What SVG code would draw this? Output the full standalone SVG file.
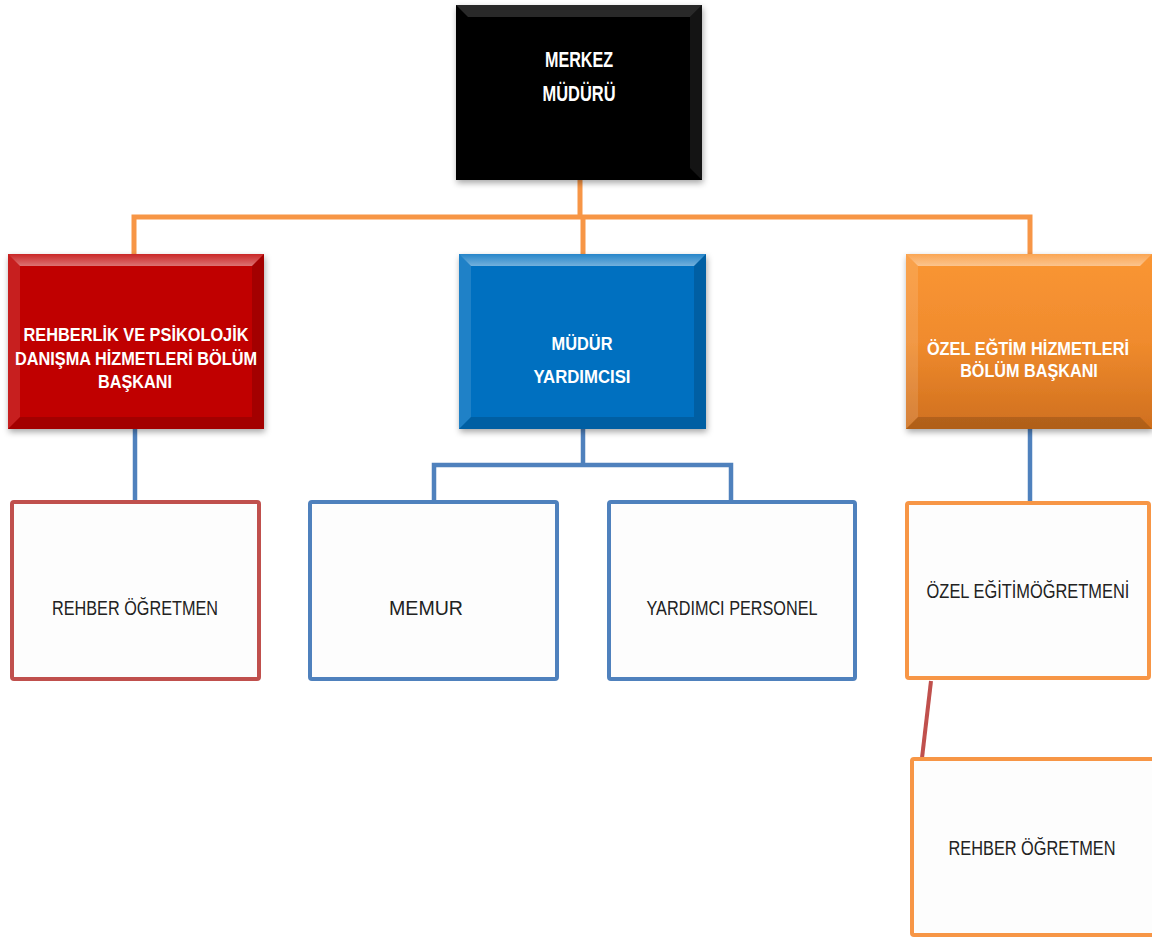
<svg xmlns="http://www.w3.org/2000/svg" width="1152" height="938" viewBox="0 0 1152 938">
<defs>
<filter id="sh" x="-10%" y="-10%" width="120%" height="125%">
<feDropShadow dx="1" dy="3" stdDeviation="3" flood-color="#000" flood-opacity="0.35"/>
</filter>
<linearGradient id="og" x1="0" y1="0" x2="0" y2="1">
<stop offset="0" stop-color="#FA9634"/>
<stop offset="0.5" stop-color="#F08B2D"/>
<stop offset="1" stop-color="#CF6F1E"/>
</linearGradient>
<linearGradient id="hl" x1="0" y1="0" x2="0" y2="1">
<stop offset="0" stop-color="#fff" stop-opacity="0.15"/>
<stop offset="1" stop-color="#fff" stop-opacity="0.45"/>
</linearGradient>
</defs>
<style>
.t{font-family:"Liberation Sans",Arial,sans-serif;font-weight:bold;fill:#fff;text-anchor:middle}
.w{font-family:"Liberation Sans",Arial,sans-serif;fill:#222;text-anchor:middle}
.box{stroke-width:4;fill:#FDFDFD}
.rb{stroke:#C0504D}
.bb{stroke:#4F81BD}
.ob{stroke:#F79646}
.co{fill:none;stroke:#F79646;stroke-width:5}
.cb{fill:none;stroke:#4F81BD;stroke-width:4.5}
.cr{fill:none;stroke:#C0504D;stroke-width:4}
.top{fill:url(#hl)}
.lt{fill:#fff;opacity:0.12}
.dk{fill:#000;opacity:0.15}
</style>
<rect width="1152" height="938" fill="#fff"/>
<g id="connectors">
<path class="co" d="M580,180 V217 M134,254 V217 H1030 V254 M583,217 V254"/>
<path class="cb" d="M135,429 V500"/>
<path class="cb" d="M583,429 V465 M434,500 V465 H731 V500"/>
<path class="cb" d="M1030,429 V502"/>
<path class="cr" d="M931,681 L922,758"/>
</g>
<g id="merkez">
<g filter="url(#sh)"><rect x="456" y="5" width="246" height="175" fill="#000"/></g>
<polygon points="456,5 702,5 690,17 468,17" fill="#444" opacity="0.6"/>
<polygon points="702,5 702,180 690,168 690,17" fill="#333" opacity="0.4"/>
<text class="t" x="579" y="67" font-size="22" textLength="68" lengthAdjust="spacingAndGlyphs">MERKEZ</text>
<text class="t" x="579" y="101" font-size="22" textLength="73" lengthAdjust="spacingAndGlyphs">MÜDÜRÜ</text>
</g>
<g id="rpd">
<g filter="url(#sh)"><rect x="8" y="254" width="256" height="175" fill="#C00000"/></g>
<polygon class="top" points="8,254 264,254 252,266 20,266"/>
<polygon class="lt" points="8,254 20,266 20,417 8,429"/>
<polygon class="dk" points="264,254 264,429 252,417 252,266"/>
<polygon class="dk" points="8,429 264,429 252,417 20,417"/>
<text class="t" x="136" y="341" font-size="18" textLength="225" lengthAdjust="spacingAndGlyphs">REHBERLİK VE PSİKOLOJİK</text>
<text class="t" x="136" y="365" font-size="18" textLength="242" lengthAdjust="spacingAndGlyphs">DANIŞMA HİZMETLERİ BÖLÜM</text>
<text class="t" x="135" y="388" font-size="18" textLength="74" lengthAdjust="spacingAndGlyphs">BAŞKANI</text>
</g>
<g id="mudur-yardimcisi">
<g filter="url(#sh)"><rect x="459" y="254" width="247" height="175" fill="#0070C0"/></g>
<polygon class="top" points="459,254 706,254 694,266 471,266"/>
<polygon class="lt" points="459,254 471,266 471,417 459,429"/>
<polygon class="dk" points="706,254 706,429 694,417 694,266"/>
<polygon class="dk" points="459,429 706,429 694,417 471,417"/>
<text class="t" x="582" y="350" font-size="19" textLength="61" lengthAdjust="spacingAndGlyphs">MÜDÜR</text>
<text class="t" x="582" y="383" font-size="19" textLength="97" lengthAdjust="spacingAndGlyphs">YARDIMCISI</text>
</g>
<g id="ozel-egitim-baskani">
<g filter="url(#sh)"><rect x="906" y="254" width="246" height="175" fill="url(#og)"/></g>
<polygon class="top" points="906,254 1152,254 1140,266 918,266"/>
<polygon class="lt" points="906,254 918,266 918,417 906,429"/>
<polygon class="dk" points="906,429 1152,429 1140,417 918,417"/>
<text class="t" transform="translate(1028,355) scale(0.79,1)" x="0" y="0" font-size="19" textLength="256" lengthAdjust="spacingAndGlyphs">ÖZEL EĞTİM HİZMETLERİ</text>
<text class="t" transform="translate(1029,377) scale(0.85,1)" x="0" y="0" font-size="19" textLength="162" lengthAdjust="spacingAndGlyphs">BÖLÜM BAŞKANI</text>
</g>
<g id="rehber-ogretmen-1">
<rect class="box rb" x="12" y="502" width="247" height="177" rx="2"/>
<text class="w" x="135" y="615" font-size="20" textLength="166" lengthAdjust="spacingAndGlyphs">REHBER ÖĞRETMEN</text>
</g>
<g id="memur">
<rect class="box bb" x="310" y="502" width="247" height="177" rx="2"/>
<text class="w" x="426" y="615" font-size="20" textLength="74" lengthAdjust="spacingAndGlyphs">MEMUR</text>
</g>
<g id="yardimci-personel">
<rect class="box bb" x="609" y="502" width="246" height="177" rx="2"/>
<text class="w" x="732" y="615" font-size="20" textLength="171" lengthAdjust="spacingAndGlyphs">YARDIMCI PERSONEL</text>
</g>
<g id="ozel-egitim-ogretmeni">
<rect class="box ob" x="907" y="503" width="242" height="175" rx="2"/>
<text class="w" transform="translate(1028,598) scale(0.78,1)" x="0" y="0" font-size="20" textLength="260" lengthAdjust="spacingAndGlyphs">ÖZEL EĞİTİMÖĞRETMENİ</text>
</g>
<g id="rehber-ogretmen-2">
<rect class="box ob" x="912" y="759" width="242" height="176" rx="2"/>
<text class="w" x="1032" y="855" font-size="20" textLength="167" lengthAdjust="spacingAndGlyphs">REHBER ÖĞRETMEN</text>
</g>
</svg>
